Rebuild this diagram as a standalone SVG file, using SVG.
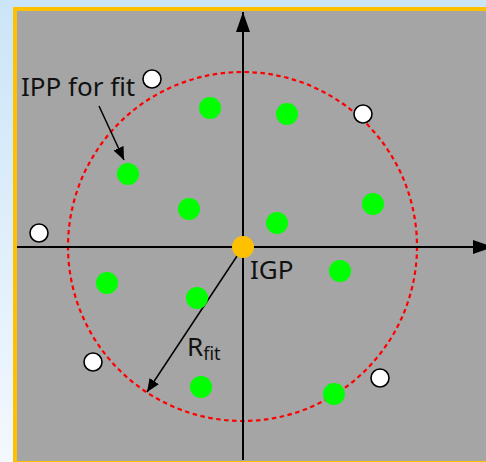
<svg xmlns="http://www.w3.org/2000/svg" width="486" height="462" viewBox="0 0 486 462">
<defs>
<linearGradient id="bg" x1="0" y1="0" x2="0" y2="1">
<stop offset="0" stop-color="#cbe5f8"/>
<stop offset="1" stop-color="#f3f8fd"/>
</linearGradient>
<marker id="bigArrow" markerUnits="userSpaceOnUse" markerWidth="20" markerHeight="14" refX="20" refY="7" orient="auto">
<path d="M0,0 L20,7 L0,14 Z" fill="#000"/>
</marker>
<marker id="smallArrow" markerUnits="userSpaceOnUse" markerWidth="13" markerHeight="11" refX="13" refY="5.5" orient="auto">
<path d="M0,0 L13,5.5 L0,11 Z" fill="#000"/>
</marker>
<style>
.txt{font-family:"Noto Sans","DejaVu Sans",sans-serif;font-size:26px;fill:#111}
.green{fill:#00ff00}
.white{fill:#fff;stroke:#000;stroke-width:1.6}
.axis{stroke:#000;stroke-width:2;fill:none}
.ptr{stroke:#000;stroke-width:1.5;fill:none}
</style>
</defs>
<rect x="0" y="0" width="486" height="462" fill="url(#bg)"/>
<rect x="15" y="9" width="490" height="454" fill="#a5a5a5" stroke="#ffc000" stroke-width="4"/>
<g id="fit-circle">
<circle cx="242.5" cy="246.5" r="174.5" fill="none" stroke="#ff0000" stroke-width="2.2" stroke-dasharray="4.5 3.5"/>
</g>
<g id="connectors">
<line class="axis" x1="243" y1="460" x2="243" y2="12" marker-end="url(#bigArrow)"/>
<line class="axis" x1="17" y1="247" x2="493" y2="247" marker-end="url(#bigArrow)"/>
<line class="ptr" x1="99" y1="106" x2="124" y2="160" marker-end="url(#smallArrow)"/>
<line class="ptr" x1="243" y1="247" x2="147" y2="392" marker-end="url(#smallArrow)"/>
</g>
<g id="green-points">
<circle class="green" cx="210" cy="108" r="11"/>
<circle class="green" cx="287" cy="114" r="11"/>
<circle class="green" cx="128" cy="174" r="11"/>
<circle class="green" cx="189" cy="209" r="11"/>
<circle class="green" cx="277" cy="223" r="11"/>
<circle class="green" cx="373" cy="204" r="11"/>
<circle class="green" cx="107" cy="283" r="11"/>
<circle class="green" cx="197" cy="298" r="11"/>
<circle class="green" cx="340" cy="271" r="11"/>
<circle class="green" cx="201" cy="387" r="11"/>
<circle class="green" cx="334" cy="394" r="11"/>
</g>
<g id="white-points">
<circle class="white" cx="152" cy="79" r="9"/>
<circle class="white" cx="363" cy="114" r="9"/>
<circle class="white" cx="39" cy="233" r="9"/>
<circle class="white" cx="93" cy="362" r="9"/>
<circle class="white" cx="380" cy="378" r="9"/>
</g>
<g id="igp">
<circle cx="243" cy="247" r="11" fill="#ffc000"/>
<text class="txt" x="250" y="279">IGP</text>
</g>
<g id="ipp-label">
<text class="txt" x="21" y="96">IPP for fit</text>
</g>
<g id="rfit-label">
<text class="txt" x="187" y="356">R<tspan font-size="18" dy="4">fit</tspan></text>
</g>
</svg>
